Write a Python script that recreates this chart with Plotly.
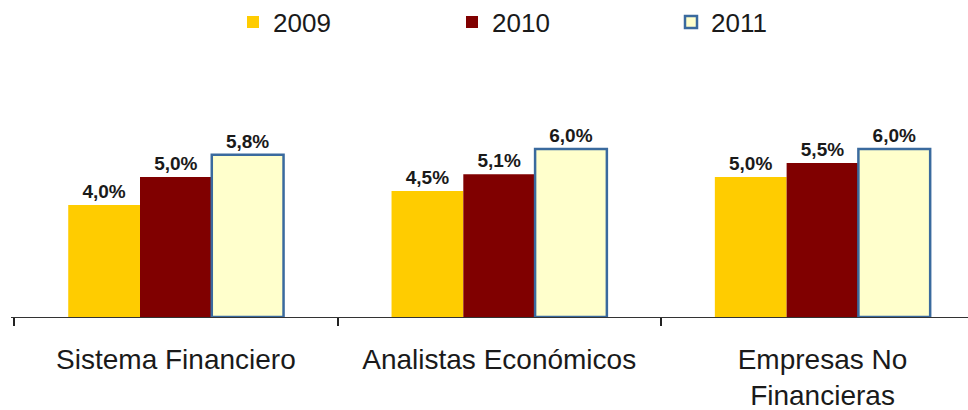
import plotly.graph_objects as go

categories = ["Sistema Financiero", "Analistas Económicos", "Empresas No<br>Financieras"]
years = ["2009", "2010", "2011"]
v2009 = [4.0, 4.5, 5.0]
v2010 = [5.0, 5.1, 5.5]
v2011 = [5.8, 6.0, 6.0]

series = [v2009, v2010, v2011]
fills = ["#FFCC00", "#800000", "#FFFFCC"]
lines = ["#FFCC00", "#800000", "#3A6A9E"]
lwidths = [0, 0, 2.5]

def fmt(v):
    return f"{v:.1f}".replace(".", ",") + "%"

fig = go.Figure()
for name, vals, fc, lc, lw in zip(years, series, fills, lines, lwidths):
    fig.add_trace(go.Bar(
        name=name, x=categories, y=vals,
        marker=dict(color=fc, line=dict(color=lc, width=lw)),
        text=[fmt(v) for v in vals], textposition="outside",
        textfont=dict(family="Liberation Sans", size=19, color="#1a1a1a", weight="bold"),
        cliponaxis=False,
    ))

fig.update_layout(
    width=968, height=410,
    margin=dict(l=11, r=0, t=60, b=93, autoexpand=False),
    paper_bgcolor="white", plot_bgcolor="white",
    barmode="group", bargap=0.334, bargroupgap=0,
    font=dict(family="Liberation Sans", size=28, color="#1a1a1a"),
    showlegend=True,
    legend=dict(orientation="h", xref="container", yref="container",
                x=233/968, y=1-22/410, xanchor="left", yanchor="middle",
                entrywidth=174, entrywidthmode="pixels",
                font=dict(family="Liberation Sans", size=26, color="#1a1a1a"),
                bgcolor="rgba(0,0,0,0)"),
)
fig.update_xaxes(type="category", range=[-0.51, 2.45], showline=True, linecolor="#333333",
                 linewidth=1, ticks="outside", tickson="boundaries", ticklen=8,
                 tickwidth=1.5, tickcolor="#222222", showgrid=False, automargin=False,
                 ticklabelstandoff=17,
                 tickfont=dict(family="Liberation Sans", size=28, color="#1a1a1a"))
fig.update_yaxes(range=[0, 9.18], visible=False, showgrid=False, zeroline=False, automargin=False)

fig.write_html("out.html", config={"displayModeBar": False},
               post_script="document.body.style.margin='0';document.body.style.overflow='hidden';")
